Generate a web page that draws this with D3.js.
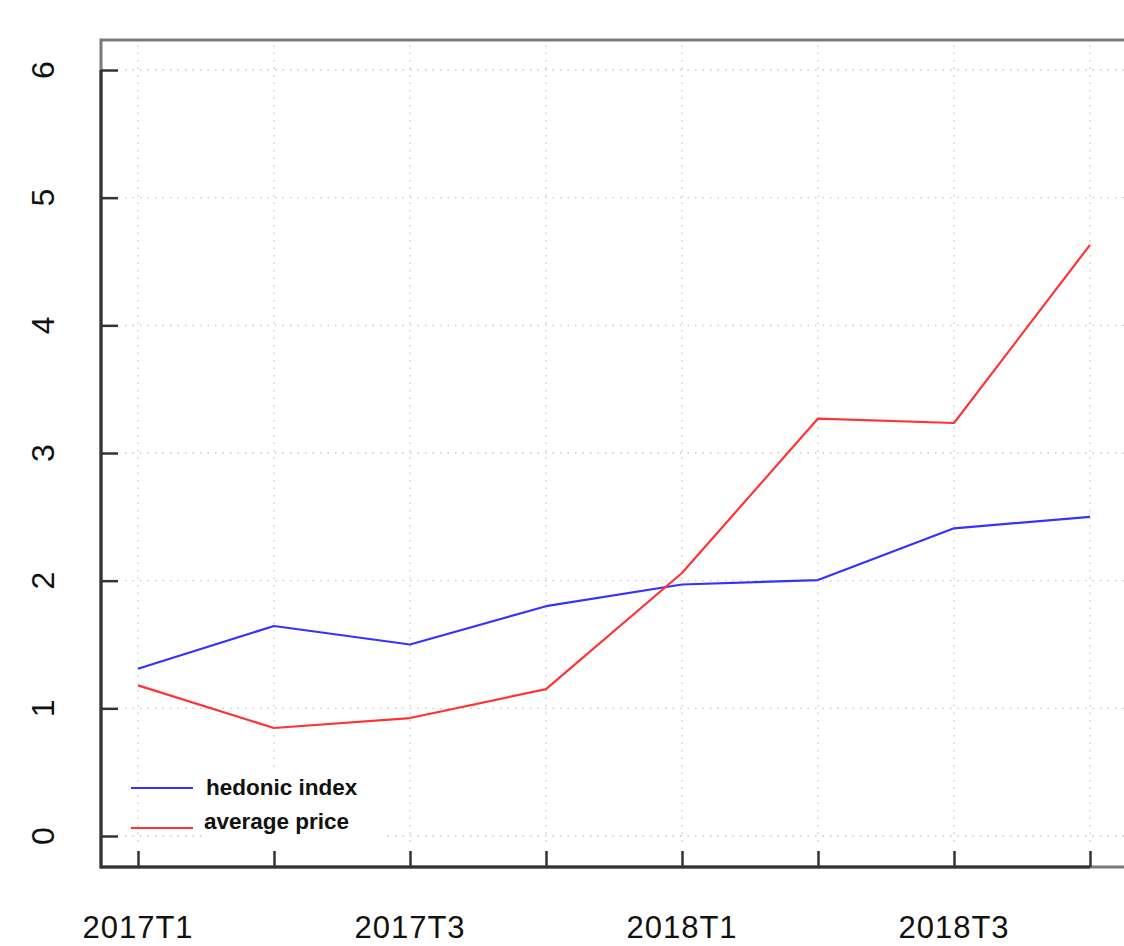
<!DOCTYPE html>
<html><head><meta charset="utf-8">
<script src="https://cdn.jsdelivr.net/npm/d3@7"></script>
<style>html,body{margin:0;padding:0;background:#fff;}svg{display:block;}</style>
</head><body>
<script>
const categories = ["2017T1","2017T2","2017T3","2017T4","2018T1","2018T2","2018T3","2018T4"];
const hedonicIndex = [1.31, 1.645, 1.50, 1.80, 1.97, 2.005, 2.41, 2.50];
const averagePrice = [1.18, 0.846, 0.924, 1.15, 2.06, 3.27, 3.235, 4.63];
const yTicks = [0,1,2,3,4,5,6];
const xLabelCats = ["2017T1","2017T3","2018T1","2018T3"];
const seriesNames = ["hedonic index","average price"];
const seriesColors = ["#3333ff","#ff3333"];

(function(){
const W=1124,H=946;
const svg=d3.select("body").append("svg").attr("width",W).attr("height",H);
const x=d3.scalePoint().domain(categories).range([138,1090]);
const y=d3.scaleLinear().domain([0,6]).range([836,70]);
const pLeft=101, pTop=40, pBottom=867;
const font="Liberation Sans, Arial, sans-serif";

// grid
svg.append("g").selectAll("line").data(yTicks).join("line")
  .attr("x1",125).attr("x2",W).attr("y1",d=>y(d)).attr("y2",d=>y(d))
  .attr("stroke","#c8c8c8").attr("stroke-width",1.3).attr("stroke-dasharray","1.5,6");
svg.append("g").selectAll("line").data(categories).join("line")
  .attr("x1",d=>x(d)).attr("x2",d=>x(d)).attr("y1",45).attr("y2",845)
  .attr("stroke","#c8c8c8").attr("stroke-width",1.3).attr("stroke-dasharray","1.5,6");

// legend background
svg.append("rect").attr("x",205).attr("y",770).attr("width",178).attr("height",75).attr("fill","#fff");

// box
svg.append("rect").attr("x",pLeft).attr("y",pTop).attr("width",1200).attr("height",pBottom-pTop)
  .attr("fill","none").attr("stroke","#7a7a7a").attr("stroke-width",3);

// axes
const ya=svg.append("g").attr("transform",`translate(${pLeft},0)`)
  .call(d3.axisLeft(y).tickValues(yTicks).tickSize(-17).tickFormat(""));
ya.select(".domain").remove();
ya.selectAll(".tick line").attr("stroke","#333").attr("stroke-width",2.5);
svg.append("line").attr("x1",pLeft).attr("x2",pLeft).attr("y1",y(6)).attr("y2",pBottom+1.5)
  .attr("stroke","#333").attr("stroke-width",3);
svg.append("g").selectAll("text").data(yTicks).join("text")
  .attr("transform",d=>`translate(54,${y(d)}) rotate(-90)`)
  .attr("text-anchor","middle").attr("font-family",font)
  .attr("font-size",32).attr("fill","#111").text(d=>d);

const xa=svg.append("g").attr("transform",`translate(0,${pBottom})`)
  .call(d3.axisBottom(x).tickSize(-16).tickFormat(""));
xa.select(".domain").remove();
xa.selectAll(".tick line").attr("stroke","#333").attr("stroke-width",2.5);
svg.append("line").attr("x1",pLeft).attr("x2",x(categories[categories.length-1])).attr("y1",pBottom).attr("y2",pBottom)
  .attr("stroke","#333").attr("stroke-width",3);
svg.append("g").selectAll("text").data(xLabelCats).join("text")
  .attr("x",d=>x(d)).attr("y",938).attr("text-anchor","middle")
  .attr("font-family",font).attr("font-size",31).attr("letter-spacing",1).attr("fill","#111").text(d=>d);

// lines
const line=d3.line().x((d,i)=>x(categories[i])).y(d=>y(d));
[hedonicIndex,averagePrice].forEach((s,k)=>{
  svg.append("path").datum(s).attr("d",line).attr("fill","none")
    .attr("stroke",seriesColors[k]).attr("stroke-width",2.2).attr("stroke-linejoin","round");
});

// legend
const ly=[788,828], ty=[795,829], lx=[206,204];
seriesNames.forEach((n,k)=>{
  svg.append("line").attr("x1",131).attr("x2",193).attr("y1",ly[k]).attr("y2",ly[k])
    .attr("stroke",seriesColors[k]).attr("stroke-width",2);
  svg.append("text").attr("x",lx[k]).attr("y",ty[k]).attr("font-family",font)
    .attr("font-weight","bold").attr("font-size",22.5).attr("fill","#111").text(n);
});
})();
</script>
</body></html>
